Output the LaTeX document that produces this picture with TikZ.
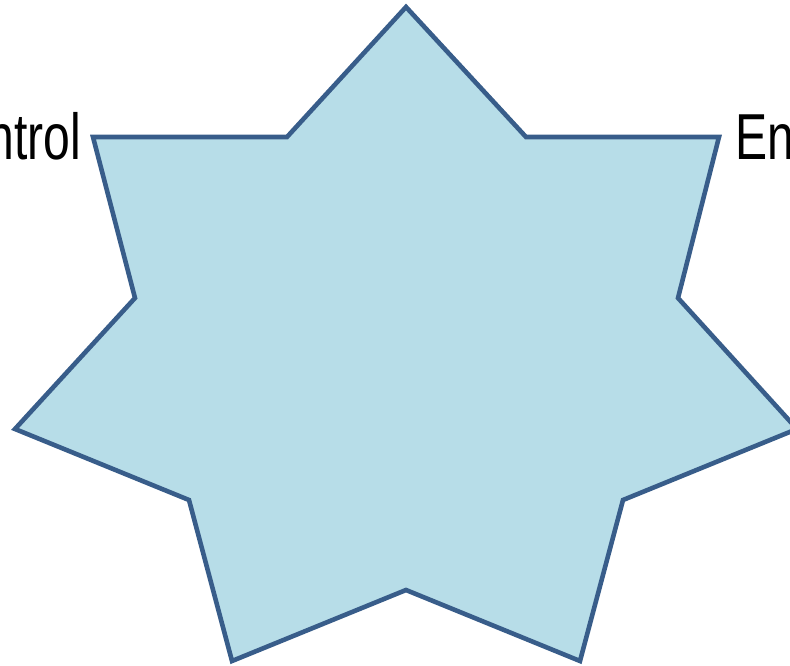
\documentclass[tikz,border=0pt]{standalone}
\usepackage{fontspec}
\setmainfont{Liberation Sans}
\definecolor{starfill}{HTML}{B7DDE8}
\definecolor{starline}{HTML}{385D8A}
\begin{document}
\begin{tikzpicture}[x=1pt,y=-1pt,
  starshape/.style={draw=starline,fill=starfill,line width=4.6pt,line join=miter},
  label/.style={inner sep=0pt,font=\fontsize{65}{78}\selectfont,xscale=0.74}]
\useasboundingbox (0,0) rectangle (790,666);
\clip (0,0) rectangle (790,666);
\coordinate (o1) at (406,7);
\coordinate (i1) at (526,137);
\coordinate (o2) at (719,137);
\coordinate (i2) at (678,298);
\coordinate (o3) at (797,429);
\coordinate (i3) at (623,500);
\coordinate (o4) at (580,661);
\coordinate (i4) at (406,590);
\coordinate (o5) at (232,661);
\coordinate (i5) at (189,500);
\coordinate (o6) at (15,429);
\coordinate (i6) at (135,298);
\coordinate (o7) at (93,137);
\coordinate (i7) at (287,137);
\draw[starshape] (o1) -- (i1) -- (o2) -- (i2) -- (o3) -- (i3) -- (o4) -- (i4) -- (o5) -- (i5) -- (o6) -- (i6) -- (o7) -- (i7) -- cycle;
\node[label,anchor=base east] (left) at (81,160) {ntrol};
\node[label,anchor=base west] (right) at (735,160) {En};
\end{tikzpicture}
\end{document}
